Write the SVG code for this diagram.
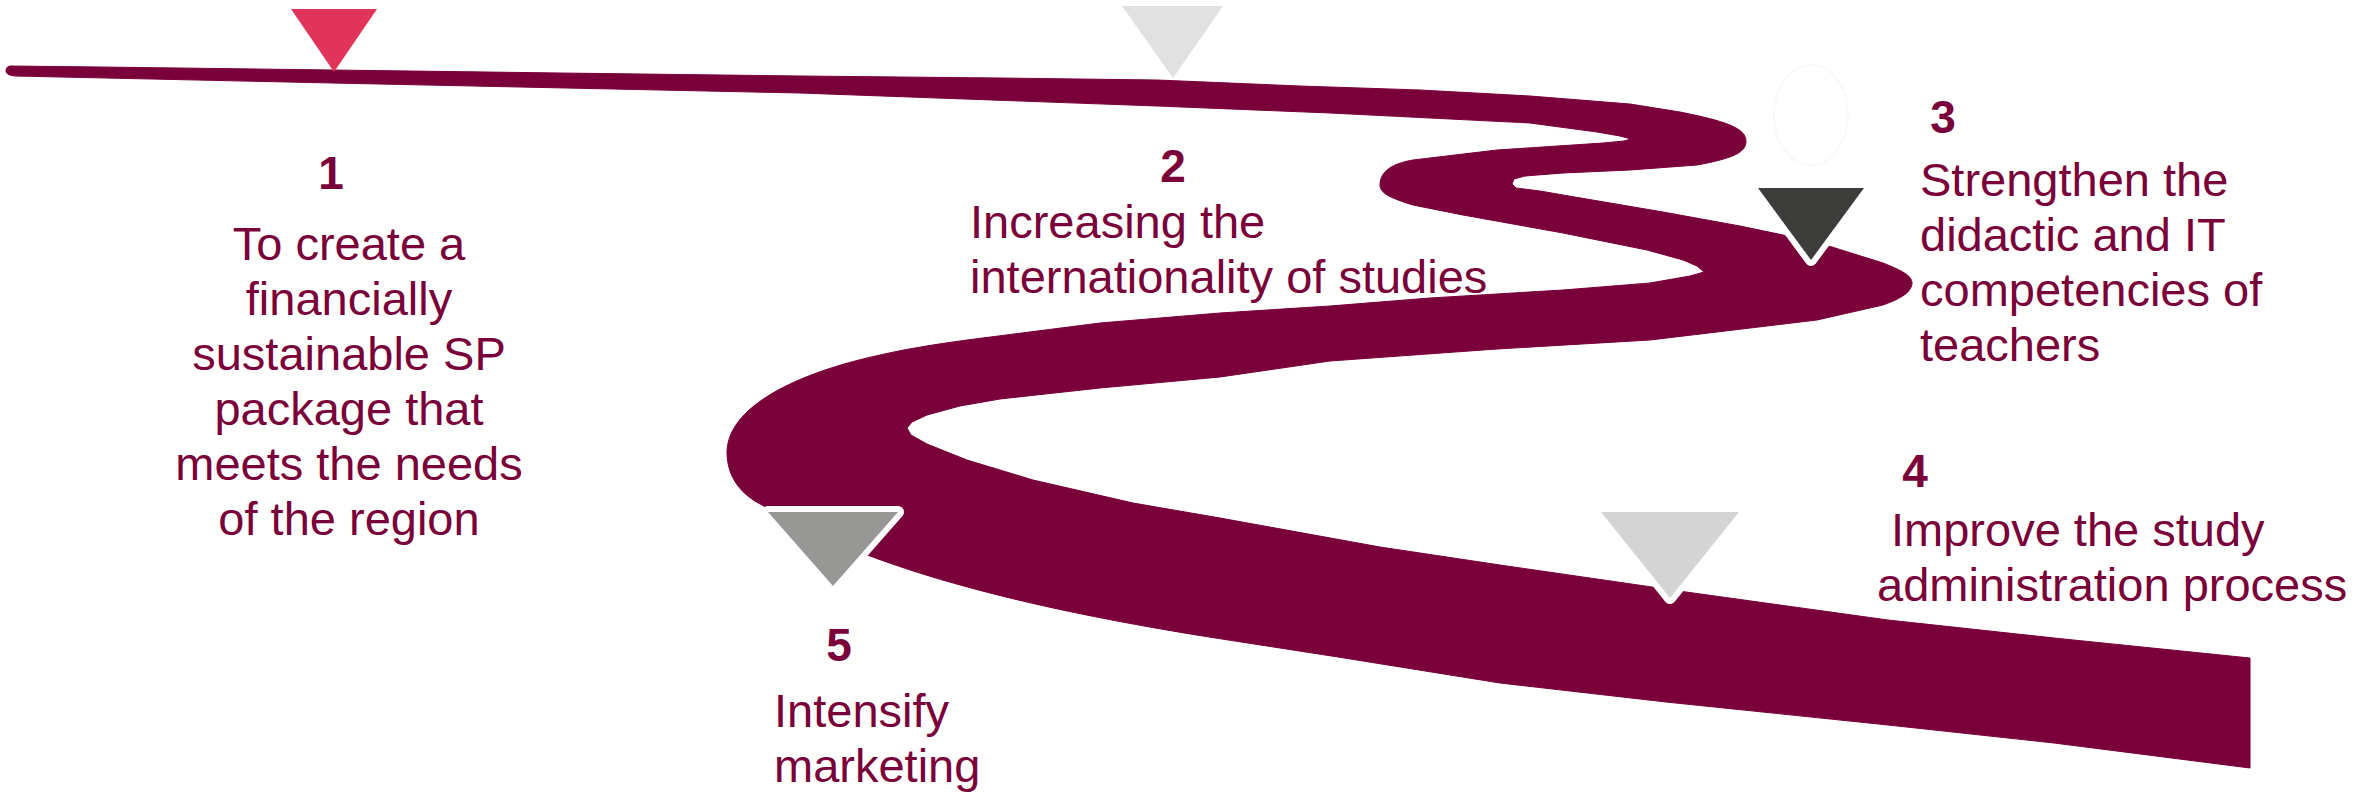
<svg xmlns="http://www.w3.org/2000/svg" width="2369" height="793" viewBox="0 0 2369 793">
<style>
.road{fill:#7A0039;stroke:#7A0039;stroke-width:1;stroke-linejoin:round}
.num{font-family:"Liberation Sans",Arial,sans-serif;font-weight:bold;font-size:46px;fill:#7A0039;text-anchor:middle}
.lbl{font-family:"Liberation Sans",Arial,sans-serif;font-size:47px;fill:#7A0039}
.mid{text-anchor:middle}
.tri{stroke:none}
.trib{stroke:#FFFFFF;stroke-width:12;stroke-linejoin:round;paint-order:stroke}
</style>
<rect x="0" y="0" width="2369" height="793" fill="#FFFFFF"/>
<g id="connectors">
<path class="road" d="M10,66 L100,67 L332,70 L560,73 L800,76 L1000,78 L1157,80 L1300,86 L1420,90 L1530,96 L1630,104 L1680,112 C1725,121 1746,128 1746,141 C1746,152 1735,158 1697,165 L1630,170 L1563,173 L1525,176 L1514,179 L1512,184 L1516,188 L1540,191 L1563,195 L1663,212 L1740,226 L1783,235 L1832,247 L1883,263 C1903,271 1912,276 1912,283 C1912,291 1903,298 1883,305 L1817,320 L1717,332 L1650,340 L1497,349 L1330,361 L1220,377 L1100,388 L1000,399 L960,406 L927,415 L912,422 L907,428 L911,435 L927,444 L967,460 L1033,480 L1133,503 L1220,518 L1380,547 L1500,565 L1652,587 L1686,592 L1888,620 L2054,638 L2250,658 L2250,768 L2054,743 L1888,725 L1666,702 L1500,683 L1338,657 L1209,637 C1040,610 940,582 870,556 L840,545 L800,527 L762,505 C742,495 727,478 727,452 C728,405 800,374 867,358 C900,350 930,345 967,340 L1100,323 L1220,313 L1330,306 L1430,298 L1563,290 L1650,283 L1690,276 L1704,272 L1697,266 L1683,260 L1647,250 L1563,233 L1463,215 L1413,205 C1390,198 1380,193 1380,185 C1380,170 1395,163 1413,160 L1497,150 L1603,143 L1624,141 L1631,139 L1620,136 L1597,132 L1530,123 L1330,113 L1157,106 L800,93 L332,83 L15,76 Q5,75 6,70 Q7,66 10,66 Z"/>
</g>
<ellipse cx="1811" cy="115" rx="37" ry="50" fill="none" stroke="#F9F9F6" stroke-width="2"/>
<g id="node-1">
<polygon class="tri" fill="#E0345A" points="291,9 377,9 334,72"/>
<text class="num" x="331" y="189">1</text>
<text class="lbl mid" x="349" y="260">To create a</text>
<text class="lbl mid" x="349" y="315">financially</text>
<text class="lbl mid" x="349" y="370">sustainable SP</text>
<text class="lbl mid" x="349" y="425">package that</text>
<text class="lbl mid" x="349" y="480">meets the needs</text>
<text class="lbl mid" x="349" y="535">of the region</text>
</g>
<g id="node-2">
<polygon class="tri" fill="#E1E1E1" points="1122,6 1223,6 1173,78"/>
<text class="num" x="1173" y="182">2</text>
<text class="lbl" x="970" y="238">Increasing the</text>
<text class="lbl" x="970" y="293">internationality of studies</text>
</g>
<g id="node-3">
<polygon class="trib" fill="#3C3C3A" points="1758,188 1864,188 1811,260"/>
<text class="num" x="1943" y="133">3</text>
<text class="lbl" x="1920" y="196">Strengthen the</text>
<text class="lbl" x="1920" y="251">didactic and IT</text>
<text class="lbl" x="1920" y="306">competencies of</text>
<text class="lbl" x="1920" y="361">teachers</text>
</g>
<g id="node-4">
<polygon class="trib" fill="#D4D4D4" points="1601,512 1739,512 1670,598"/>
<text class="num" x="1915" y="487">4</text>
<text class="lbl" x="1891" y="546">Improve the study</text>
<text class="lbl" x="1877" y="601">administration process</text>
</g>
<g id="node-5">
<polygon class="trib" fill="#979895" points="768,512 898,512 833,586"/>
<text class="num" x="839" y="661">5</text>
<text class="lbl" x="774" y="727">Intensify</text>
<text class="lbl" x="774" y="782">marketing</text>
</g>
</svg>
